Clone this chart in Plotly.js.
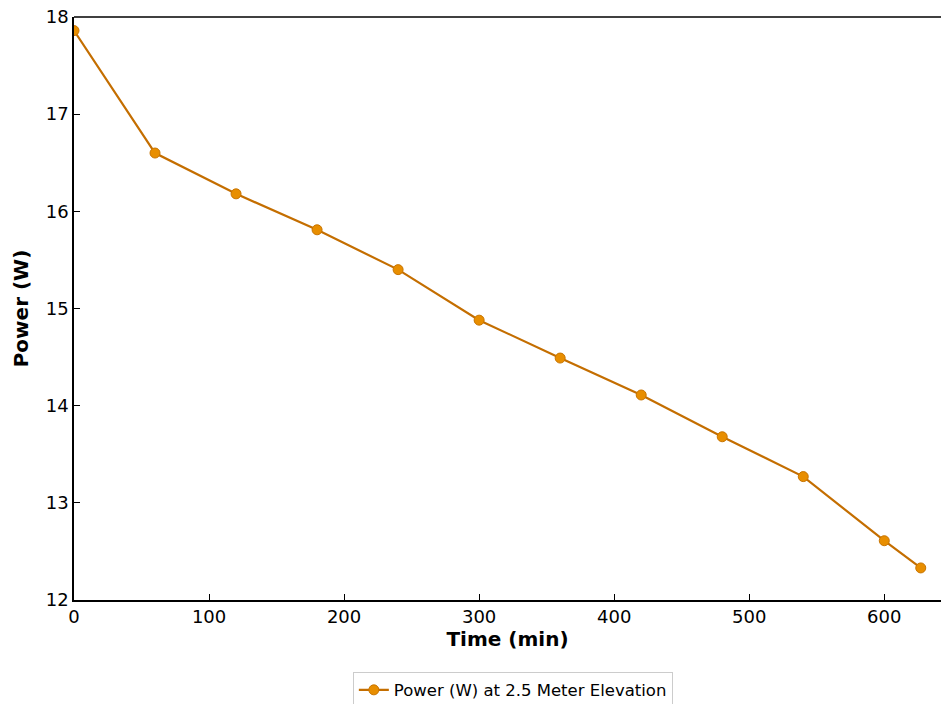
<!DOCTYPE html>
<html>
<head>
<meta charset="utf-8">
<script src="https://cdn.plot.ly/plotly-3.0.1.min.js"></script>
<style>html,body{margin:0;padding:0;background:#fff;}#chart{width:941px;height:704px;}</style>
</head>
<body>
<div id="chart"></div>
<script>
const timeMin = [0, 60, 120, 180, 240, 300, 360, 420, 480, 540, 600, 627];
const powerW = [17.86, 16.60, 16.18, 15.81, 15.40, 14.88, 14.49, 14.11, 13.68, 13.27, 12.61, 12.33];
const seriesName = 'Power (W) at 2.5 Meter Elevation';
const xTicks = [0, 100, 200, 300, 400, 500, 600];
const yTicks = [12, 13, 14, 15, 16, 17, 18];

const trace = {
  x: timeMin, y: powerW, name: seriesName,
  type: 'scatter', mode: 'lines+markers',
  line: {color: '#c46e00', width: 2.2},
  marker: {color: '#e88e00', size: 10, line: {color: '#c87400', width: 1}}
};

const layout = {
  width: 941, height: 704,
  margin: {l: 74, r: 0, t: 17, b: 104},
  paper_bgcolor: '#fff', plot_bgcolor: '#fff',
  font: {family: 'DejaVu Sans', color: '#000'},
  showlegend: true,
  legend: {orientation: 'h', x: 0.545, xanchor: 'center', xref: 'container',
           y: 0.046, yanchor: 'top', yref: 'container',
           bordercolor: '#cccccc', borderwidth: 1, font: {size: 16.5, family: 'DejaVu Sans'}},
  xaxis: {range: [0, 642], tickvals: xTicks, ticks: 'inside', ticklen: 6, tickcolor: '#000',
          showline: true, linecolor: '#000', linewidth: 1.5, showgrid: false, zeroline: false,
          tickfont: {size: 18}, title: {text: '<b>Time (min)</b>', font: {size: 20}, standoff: 6}},
  yaxis: {range: [12, 18], tickvals: yTicks, ticks: 'inside', ticklen: 6, tickcolor: '#000',
          showline: true, linecolor: '#000', linewidth: 1.5, showgrid: false, zeroline: false,
          tickfont: {size: 18}, title: {text: '<b>Power (W)</b>', font: {size: 20}, standoff: 12}},
  shapes: [{type: 'line', xref: 'paper', yref: 'paper', x0: 0, x1: 1, y0: 1, y1: 1,
            line: {color: '#000', width: 1.5}}]
};

Plotly.newPlot('chart', [trace], layout, {displayModeBar: false});
</script>
</body>
</html>
